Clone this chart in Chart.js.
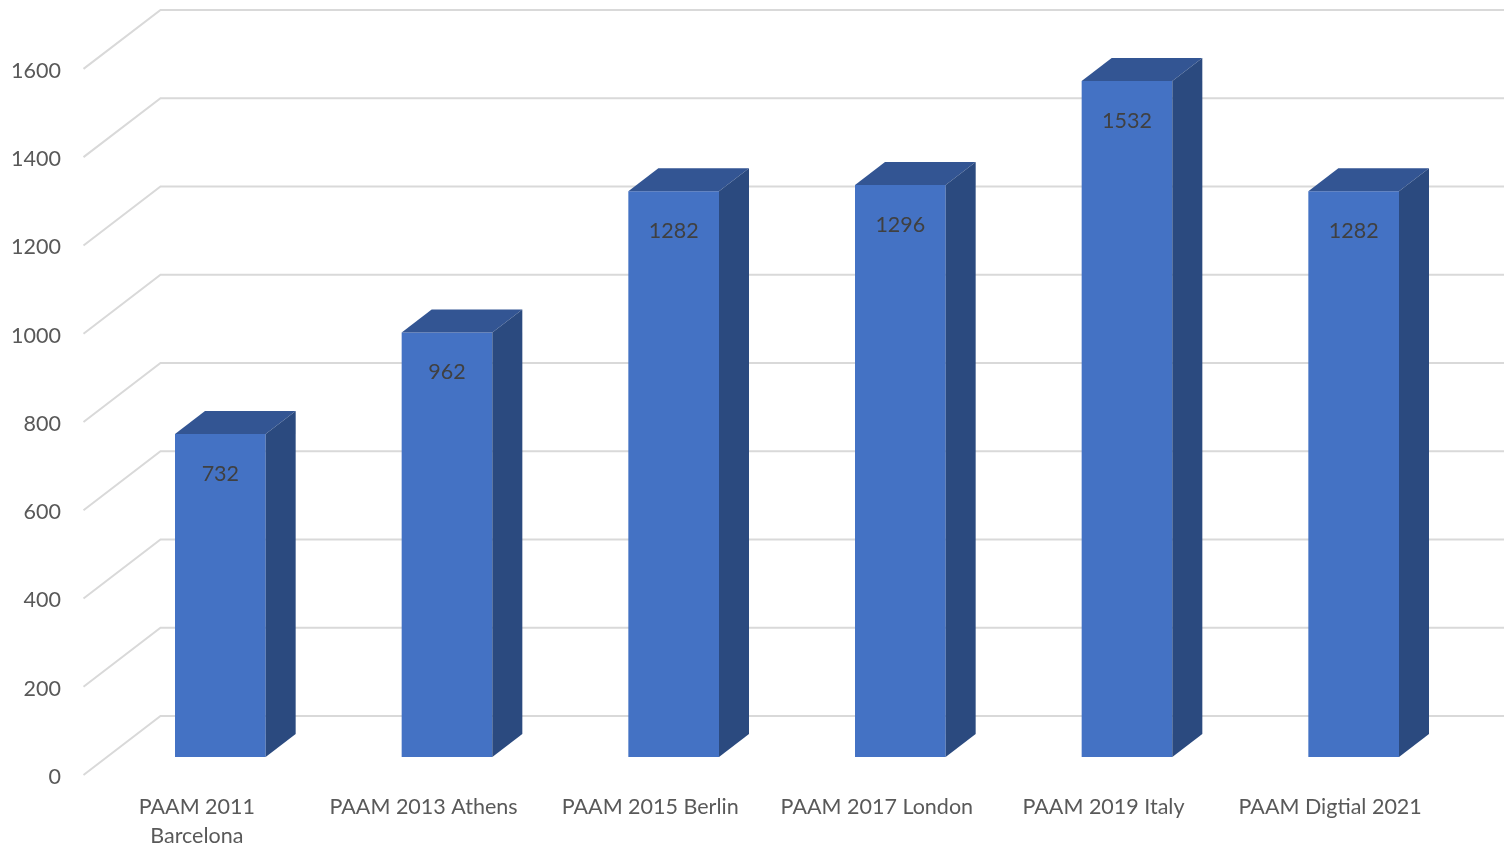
<!DOCTYPE html>
<html>
<head>
<meta charset="utf-8">
<script src="https://cdn.jsdelivr.net/npm/chart.js@4"></script>
<style>
html,body{margin:0;padding:0;background:#fff;}
#wrap{width:1504px;height:848px;}
</style>
</head>
<body>
<div id="wrap"><canvas id="c" width="1504" height="848"></canvas></div>
<script>
const categories = [["PAAM 2011", "Barcelona"], "PAAM 2013 Athens", "PAAM 2015 Berlin", "PAAM 2017 London", "PAAM 2019 Italy", "PAAM Digtial 2021"];
const attendees = [732, 962, 1282, 1296, 1532, 1282];
const yTicks = [0, 200, 400, 600, 800, 1000, 1200, 1400, 1600];

const FRONT = '#4472C4', TOP = '#335593', SIDE = '#2B4A7F';
const DX = 30, DY = 23;          // bar depth
const FX = 23.5, FY = 18;        // front plane offset from bar front
const BX = 53.5, BY = 41;        // back wall offset from bar front

const threeD = {
  id: 'threeD',
  beforeDatasetsDraw(chart) {
    const ctx = chart.ctx, y = chart.scales.y, a = chart.chartArea;
    ctx.save();
    ctx.strokeStyle = '#D9D9D9';
    ctx.lineWidth = 2;
    yTicks.forEach(v => {
      const py = y.getPixelForValue(v);
      ctx.beginPath();
      ctx.moveTo(a.left - FX, py + FY);
      ctx.lineTo(a.left + BX, py - BY);
      ctx.lineTo(chart.width, py - BY);
      ctx.stroke();
    });
    ctx.restore();
  },
  afterDatasetsDraw(chart) {
    const ctx = chart.ctx;
    const meta = chart.getDatasetMeta(0);
    ctx.save();
    meta.data.forEach((bar, i) => {
      const p = bar.getProps(['x', 'y', 'base', 'width'], true);
      const l = p.x - p.width / 2, r = p.x + p.width / 2, t = p.y, b = p.base;
      ctx.fillStyle = TOP;
      ctx.beginPath();
      ctx.moveTo(l, t); ctx.lineTo(l + DX, t - DY); ctx.lineTo(r + DX, t - DY); ctx.lineTo(r, t); ctx.closePath();
      ctx.fill();
      ctx.fillStyle = SIDE;
      ctx.beginPath();
      ctx.moveTo(r, t); ctx.lineTo(r + DX, t - DY); ctx.lineTo(r + DX, b - DY); ctx.lineTo(r, b); ctx.closePath();
      ctx.fill();
      ctx.fillStyle = '#404040';
      ctx.font = '21.5px Lato';
      ctx.textAlign = 'center';
      ctx.textBaseline = 'middle';
      ctx.fillText(String(attendees[i]), p.x, t + 40);
    });
    ctx.restore();
  }
};

new Chart(document.getElementById('c'), {
  type: 'bar',
  data: {
    labels: categories,
    datasets: [{
      data: attendees,
      backgroundColor: FRONT,
      borderWidth: 0,
      barPercentage: 0.4,
      categoryPercentage: 1.0
    }]
  },
  options: {
    responsive: false,
    animation: false,
    events: [],
    layout: { padding: { left: 0, right: 37, top: 42, bottom: 0 } },
    plugins: { legend: { display: false }, tooltip: { enabled: false } },
    scales: {
      y: {
        min: 0, max: 1600,
        border: { display: false },
        grid: { display: false },
        afterFit: s => { s.width = 107; },
        afterBuildTicks: s => { s.ticks = yTicks.map(v => ({ value: v })); },
        ticks: { padding: 38, labelOffset: 20, color: '#595959', font: { family: 'Lato', size: 21.5 },
                 callback: v => String(v) }
      },
      x: {
        border: { display: false },
        grid: { display: false },
        afterFit: s => { s.height = 91; },
        ticks: { padding: 28, labelOffset: -FX, color: '#595959', maxRotation: 0, autoSkip: false,
                 font: { family: 'Lato', size: 21.5, lineHeight: 1.32 } }
      }
    }
  },
  plugins: [threeD]
});
</script>
</body>
</html>
